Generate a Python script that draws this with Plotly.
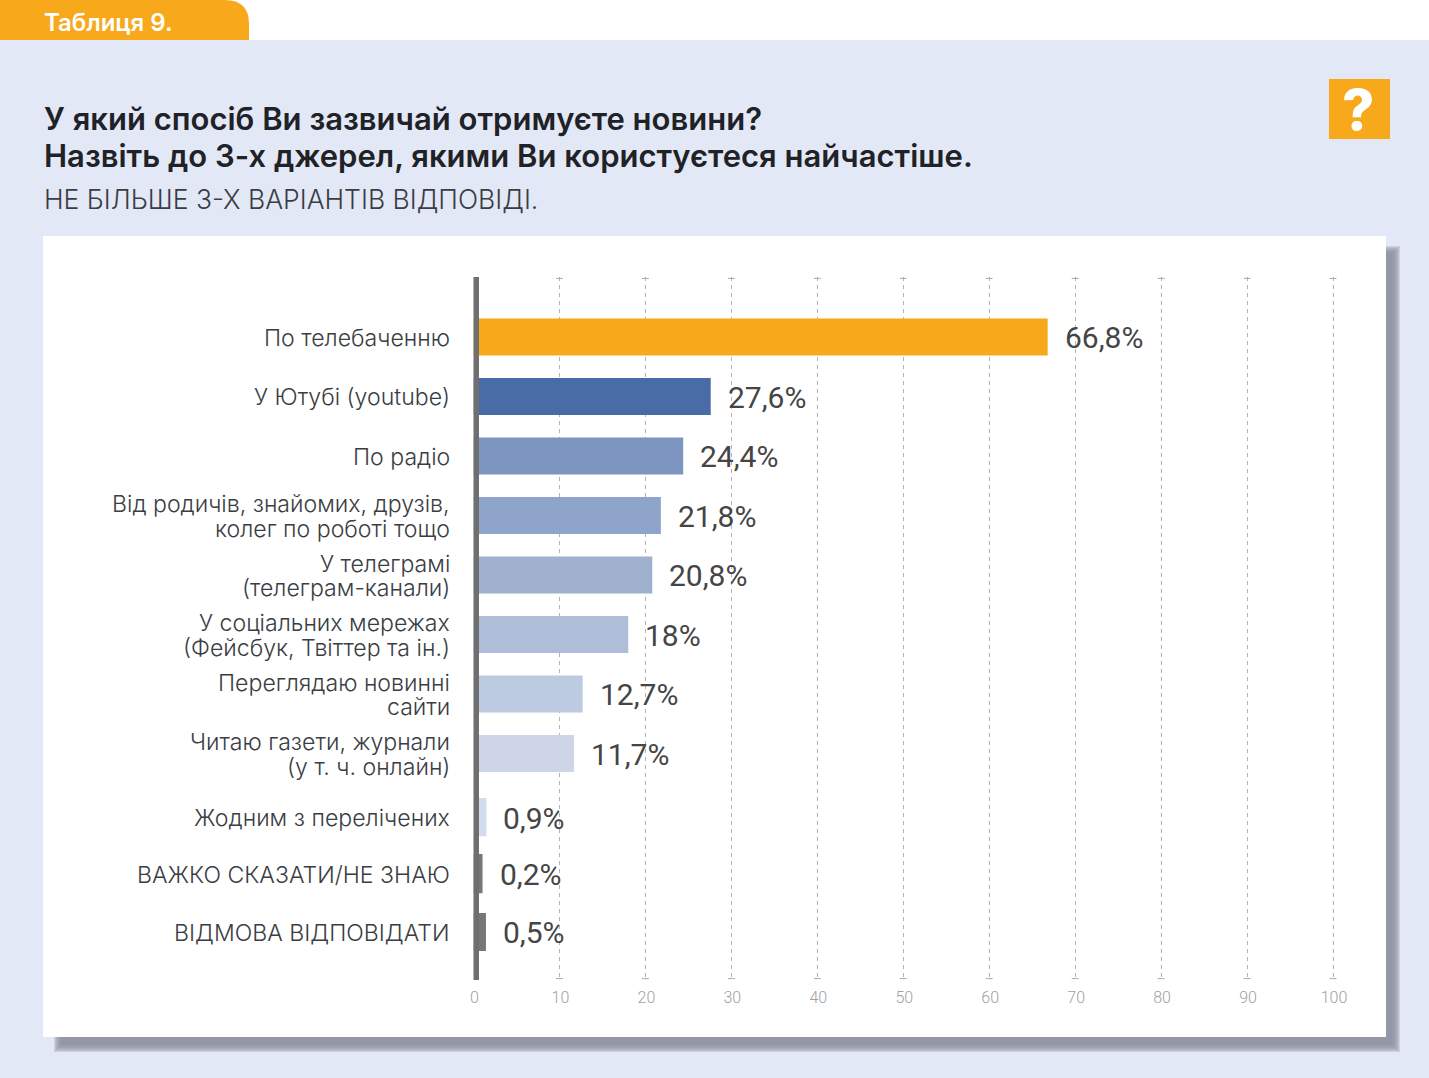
import plotly.graph_objects as go

W = 1429
H = 1078

categories = [
    "По телебаченню",
    "У Ютубі (youtube)",
    "По радіо",
    "Від родичів, знайомих, друзів,<br>колег по роботі тощо",
    "У телеграмі<br>(телеграм-канали)",
    "У соціальних мережах<br>(Фейсбук, Твіттер та ін.)",
    "Переглядаю новинні<br>сайти",
    "Читаю газети, журнали<br>(у т. ч. онлайн)",
    "Жодним з перелічених",
    "ВАЖКО СКАЗАТИ/НЕ ЗНАЮ",
    "ВІДМОВА ВІДПОВІДАТИ",
]
# last three are the lengths as drawn in the original, longer than their printed labels
values = [66.8, 27.6, 24.4, 21.8, 20.8, 18, 12.7, 11.7, 1.5, 1.05, 1.45]
value_labels = ["66,8%", "27,6%", "24,4%", "21,8%", "20,8%", "18%", "12,7%", "11,7%", "0,9%", "0,2%", "0,5%"]
x_ticks = [0, 10, 20, 30, 40, 50, 60, 70, 80, 90, 100]

rows = [0, 1, 2, 3, 4, 5, 6, 7, 8.07, 9.02, 10]
bar_widths = [0.62, 0.62, 0.62, 0.62, 0.62, 0.62, 0.62, 0.62, 0.64, 0.66, 0.64]
bar_colors = [
    "#f7a81b", "#4a6ca6", "#7e95bf", "#8ea4c8", "#a0b1d0", "#aebed9",
    "#bccbe0", "#ced5e6", "#d3dcec", "#777777", "#777777",
]

ORANGE = "#f7a81b"
PAGE_BG = "#e3e8f7"
INK = "#1f2226"
HEAD_FONT = "Inter, Noto Sans, sans-serif"
NUM_FONT = "Roboto, sans-serif"
LINE_STEP = 24.5


def px(x):
    return x / W


def py(y):
    return 1 - y / H


def rect(x0, y0, x1, y1, color, opacity=1):
    return dict(
        type="rect", xref="paper", yref="paper", layer="below",
        x0=px(x0), x1=px(x1), y0=py(y0), y1=py(y1),
        fillcolor=color, opacity=opacity, line_width=0,
    )


def page_text(x, y, text, size, color=INK, weight=400, family=HEAD_FONT, anchor="left"):
    return dict(
        xref="paper", yref="paper", x=px(x), y=py(y), text=text, showarrow=False,
        xanchor=anchor, yanchor="middle", align="left",
        font=dict(family=family, size=size, color=color, weight=weight),
    )


fig = go.Figure(
    go.Bar(
        x=values,
        y=rows,
        orientation="h",
        width=bar_widths,
        marker=dict(color=bar_colors, line_width=0),
        hoverinfo="skip",
    )
)

shapes = [rect(0, 40, W, H, PAGE_BG)]
# soft card shadow, stacked low-opacity rects
for d in (6, 5, 4, 3, 2, 1, 0, -1, -2):
    shapes.append(rect(60 - d, 252 - d, 1394 + d, 1046 + d, "#8f94a3", 0.27))
shapes += [
    rect(43, 236, 1386, 1037, "white"),
    rect(1329, 79, 1390, 139, ORANGE),
    dict(
        type="path", xref="paper", yref="paper", layer="below", line_width=0, fillcolor=ORANGE,
        path=(
            f"M 0 {py(40)} L 0 {py(0)} L {px(225)} {py(0)} "
            f"Q {px(249)} {py(0)} {px(249)} {py(24)} L {px(249)} {py(40)} Z"
        ),
    ),
    # thick axis bar on the left, over the bars
    dict(
        type="line", xref="x", yref="y domain", layer="above",
        x0=0.29, x1=0.29, y0=0, y1=1, line=dict(color="#6f6f6f", width=6),
    ),
]
# little T caps on both ends of the grid lines
for v in x_ticks[1:]:
    for end in (0.002, 0.998):
        shapes.append(
            dict(
                type="line", xref="x", yref="y domain", x0=v - 0.4, x1=v + 0.4, y0=end, y1=end,
                line=dict(color="#a8a8a8", width=1),
            )
        )

annotations = [
    page_text(42, 22, "Таблиця 9.", 24, "white", 600),
    page_text(42, 119, "У який спосіб Ви зазвичай отримуєте новини?", 31, INK, 600),
    page_text(42, 155, "Назвіть до 3-х джерел, якими Ви користуєтеся найчастіше.", 31, INK, 600),
    page_text(42, 199, "НЕ БІЛЬШЕ 3-Х ВАРІАНТІВ ВІДПОВІДІ.", 26.5, "#3a3d42", 300),
    page_text(1358, 110, "?", 56, "white", 800, anchor="center"),
]
for row, v, label, cat in zip(rows, values, value_labels, categories):
    annotations.append(
        dict(
            x=v, y=row, text=label, showarrow=False, xanchor="left", xshift=15, yshift=-1,
            font=dict(family=NUM_FONT, size=30, color="#454545"),
        )
    )
    # category lines sit tighter than plotly's <br> spacing, so each line is its own label
    lines = cat.split("<br>")
    for i, line in enumerate(lines):
        annotations.append(
            dict(
                xref="paper", x=px(452), y=row, text=line, showarrow=False,
                xanchor="right", yanchor="middle",
                yshift=(len(lines) - 1) * LINE_STEP / 2 - i * LINE_STEP - 1,
                font=dict(family=HEAD_FONT, size=23.1, color="#3a3d42", weight=300),
            )
        )

fig.update_layout(
    width=W,
    height=H,
    margin=dict(l=0, r=0, t=0, b=0),
    paper_bgcolor="white",
    plot_bgcolor="rgba(0,0,0,0)",
    showlegend=False,
    shapes=shapes,
    annotations=annotations,
    xaxis=dict(
        # one unit past 100 so the last T cap is not clipped
        domain=[px(473.5), px(1341.6)],
        range=[0, 101],
        tickvals=x_ticks,
        automargin=False,
        showgrid=True,
        gridcolor="#b3b3b3",
        gridwidth=1,
        griddash="4px,4px",
        zeroline=False,
        ticks="",
        tickfont=dict(family=NUM_FONT, size=16, color="#a0a0a0", weight=300),
        ticklabelstandoff=6,
        ticklabelshift=1,
    ),
    yaxis=dict(
        domain=[py(980), py(277)],
        range=[10.807, -1.008],
        tickvals=rows,
        automargin=False,
        showticklabels=False,
        showgrid=False,
        zeroline=False,
        ticks="",
    ),
)

fig.write_html("out.html", config=dict(displayModeBar=False), post_script="document.body.style.margin='0';")
